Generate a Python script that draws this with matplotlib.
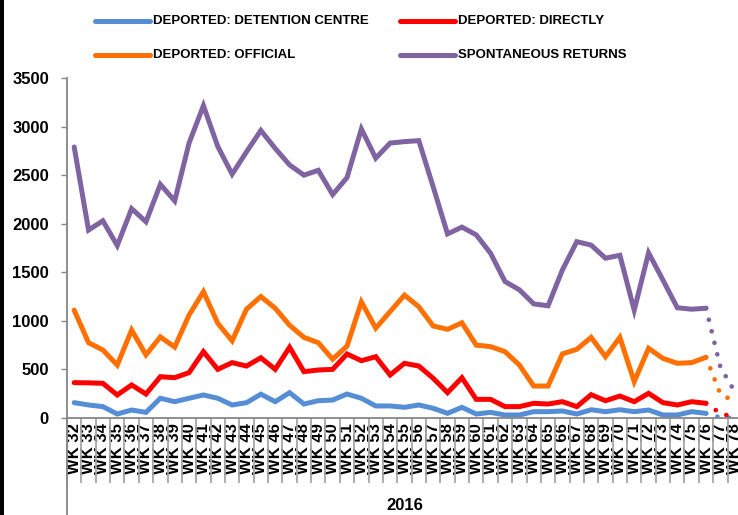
import matplotlib
matplotlib.use("Agg")
import matplotlib.pyplot as plt
from matplotlib import font_manager
from matplotlib.lines import Line2D
from matplotlib.patches import Rectangle
import numpy as np

# weekly returns
weeks = [f"WK {w}" for w in range(32, 79)]
detention = [158, 134, 117, 41, 82, 58, 203, 168, 203, 237,
             203, 134, 158, 245, 168, 261, 144, 178, 185, 247,
             203, 124, 124, 110, 134, 100, 48, 110, 41, 58,
             31, 31, 65, 65, 72, 41, 85, 65, 85, 65,
             82, 31, 31, 65, 48, 5, 0]
directly = [364, 362, 357, 237, 340, 247, 425, 415, 467, 683,
            501, 570, 535, 620, 501, 728, 477, 494, 501, 659,
            590, 631, 443, 563, 535, 409, 261, 415, 192, 192,
            117, 117, 151, 144, 168, 117, 240, 178, 226, 168,
            254, 158, 134, 168, 151, 48, 7]
official = [1110, 775, 700, 545, 905, 650, 835, 730, 1060, 1300,
            975, 795, 1120, 1250, 1130, 955, 830, 775, 605, 740,
            1195, 925, 1095, 1265, 1145, 947, 913, 980, 750, 735,
            683, 546, 329, 329, 660, 707, 830, 631, 830, 374,
            717, 614, 563, 570, 625, 247, 170]
spontaneous = [2790, 1935, 2030, 1775, 2155, 2020, 2405, 2235, 2830, 3215,
               2795, 2510, 2740, 2960, 2775, 2605, 2500, 2550, 2300, 2475,
               2975, 2675, 2830, 2845, 2855, 2380, 1895, 1965, 1885, 1695,
               1405, 1320, 1175, 1155, 1525, 1815, 1780, 1645, 1675, 1110,
               1700, 1420, 1135, 1120, 1130, 525, 270]
series_names = ["DEPORTED: DETENTION CENTRE", "DEPORTED: DIRECTLY",
                "DEPORTED: OFFICIAL", "SPONTANEOUS RETURNS"]
colors = ["#558ED5", "#FF0000", "#FF7000", "#8064A2"]
last_solid = 44  # WK 76; later weeks drawn dotted
year_label = "2016"

available = {f.name for f in font_manager.fontManager.ttflist}
base_font = "Liberation Sans" if "Liberation Sans" in available else "DejaVu Sans"
plt.rcParams["font.family"] = base_font

W, H = 738, 515
fig = plt.figure(figsize=(W / 100, H / 100), dpi=100)
gray = "#868686"

x0, x1 = 67, 67 + 47 * 14.36
y0, y1 = 418, 78
ax = fig.add_axes([x0 / W, 1 - y0 / H, (x1 - x0) / W, (y0 - y1) / H])

x = np.arange(len(weeks))
all_series = [detention, directly, official, spontaneous]
for values, color in zip(all_series, colors):
    values = np.asarray(values, dtype=float)
    ax.plot(x[:last_solid + 1], values[:last_solid + 1], color=color, lw=3.6,
            solid_joinstyle="miter", solid_capstyle="round")
    ax.plot(x[last_solid:], values[last_solid:], color=color, lw=3.4,
            linestyle=(0, (0.01, 2.5)), dash_capstyle="round")

ax.set_xlim(-0.5, len(weeks) - 0.5)
ax.set_ylim(0, 3500)
ax.set_yticks(np.arange(0, 3501, 500))
ax.tick_params(axis="y", length=4, width=1, color=gray, pad=9, labelsize=12)
for lbl in ax.get_yticklabels():
    lbl.set_fontweight("bold")

ax.set_xticks(x)
ax.set_xticklabels(weeks, rotation=90, fontsize=12, fontweight="bold", va="top")
ax.set_xticks(np.arange(-0.5, len(weeks), 1.0), minor=True)
ax.tick_params(axis="x", which="major", length=0, pad=4)
ax.tick_params(axis="x", which="minor", length=47, width=1.3, color="#A6A6A6")

for side in ["top", "right"]:
    ax.spines[side].set_visible(False)
for side in ["left", "bottom"]:
    ax.spines[side].set_color(gray)
    ax.spines[side].set_linewidth(1.3)

# axis line continues down through the category label band
fig.add_artist(Line2D([x0 / W, x0 / W], [0, 1 - y0 / H], color=gray, lw=1.3))
fig.text(405 / W, 1 - 505 / H, year_label, ha="center", va="center",
         fontsize=12, fontweight="bold")

# legend, two rows of two
legend_pos = [(95, 21), (400, 21), (95, 55), (400, 55)]
for (lx, ly), name, color in zip(legend_pos, series_names, colors):
    fig.add_artist(Line2D([lx / W, (lx + 55) / W], [1 - ly / H, 1 - ly / H],
                          color=color, lw=3.6, solid_capstyle="round"))
    fig.text((lx + 58) / W, 1 - ly / H, name, ha="left", va="center",
             fontsize=9.5, fontweight="bold")

# dark strip on the left edge of the original image
fig.add_artist(Rectangle((0, 0), 4 / W, 1, transform=fig.transFigure,
                         color="black", lw=0))

fig.savefig("out.png", dpi=100)
